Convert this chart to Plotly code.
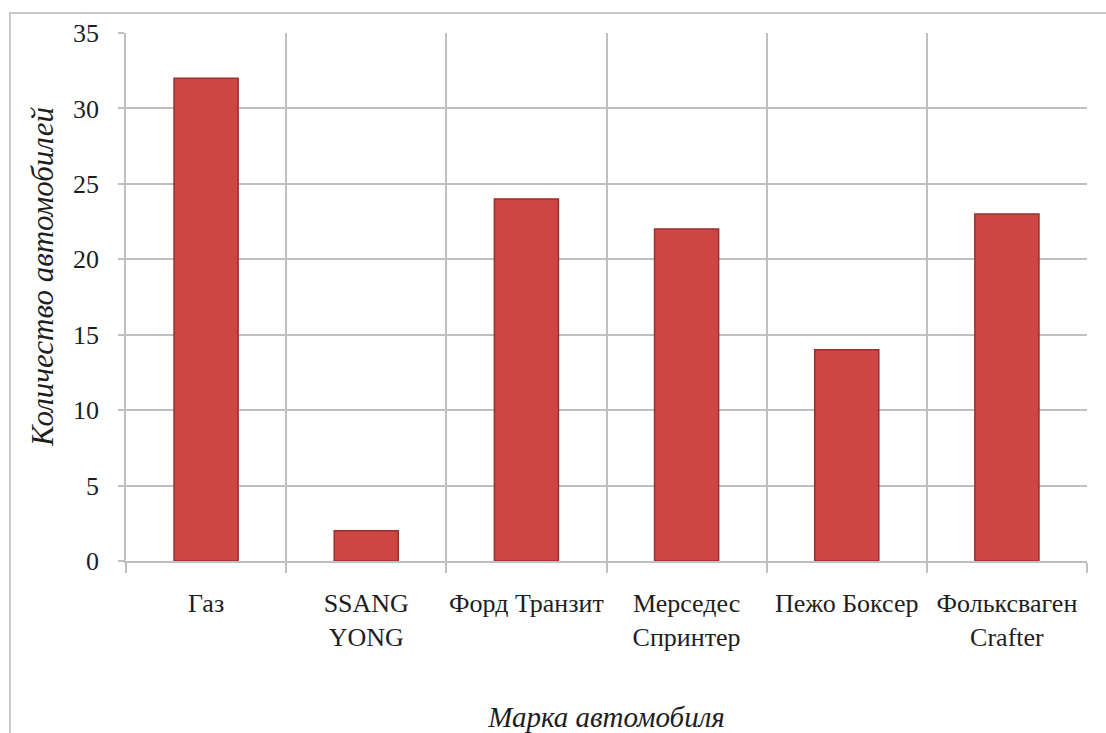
import plotly.graph_objects as go

categories = ["Газ", "SSANG<br>YONG", "Форд Транзит", "Мерседес<br>Спринтер", "Пежо Боксер", "Фольксваген<br>Crafter"]
values = [32, 2, 24, 22, 14, 23]
y_ticks = [0, 5, 10, 15, 20, 25, 30, 35]

FONT = "Liberation Serif"
GRID = "#BFBFBF"
TXT = "#1e1e1e"

fig = go.Figure()
fig.add_trace(go.Bar(
    x=categories, y=values,
    marker=dict(color="#CD4644", line=dict(color="#9A2F2D", width=1.5)),
    width=0.4,
    hoverinfo="x+y",
))

fig.update_layout(
    width=1106, height=733,
    margin=dict(l=126, r=19, t=33, b=172),
    paper_bgcolor="white", plot_bgcolor="white",
    showlegend=False,
    font=dict(family=FONT, size=26, color=TXT),
    xaxis=dict(
        type="category",
        automargin=False,
        tickson="boundaries",
        showgrid=True, gridcolor=GRID, gridwidth=1.5,
        ticks="outside", ticklen=10, tickcolor=GRID, tickwidth=1.5,
        showline=True, linecolor=GRID, linewidth=1.5,
        ticklabelstandoff=18,
        tickangle=0,
        tickfont=dict(family=FONT, size=26, color=TXT),
        title=dict(text="<i>Марка автомобиля</i>", font=dict(family=FONT, size=29, color=TXT), standoff=56),
    ),
    yaxis=dict(
        range=[0, 35],
        automargin=False,
        tickvals=y_ticks,
        showgrid=True, gridcolor=GRID, gridwidth=1.5,
        ticks="outside", ticklen=6, tickcolor=GRID, tickwidth=1.5,
        showline=True, linecolor=GRID, linewidth=1.5,
        zeroline=False,
        ticklabelstandoff=14,
        tickfont=dict(family=FONT, size=26, color=TXT),
    ),
    annotations=[dict(
        text="<i>Количество автомобилей</i>", textangle=-90,
        xref="paper", yref="paper", x=-0.0863, y=0.538,
        xanchor="center", yanchor="middle", showarrow=False,
        font=dict(family=FONT, size=31, color=TXT),
    )],
    shapes=[dict(
        type="rect", xref="paper", yref="paper",
        x0=-0.1207, x1=1.05, y0=-0.5, y1=1.0379,
        line=dict(color="#C8C8C8", width=2), fillcolor="rgba(0,0,0,0)", layer="below",
    )],
)

fig.write_html("out.html")
